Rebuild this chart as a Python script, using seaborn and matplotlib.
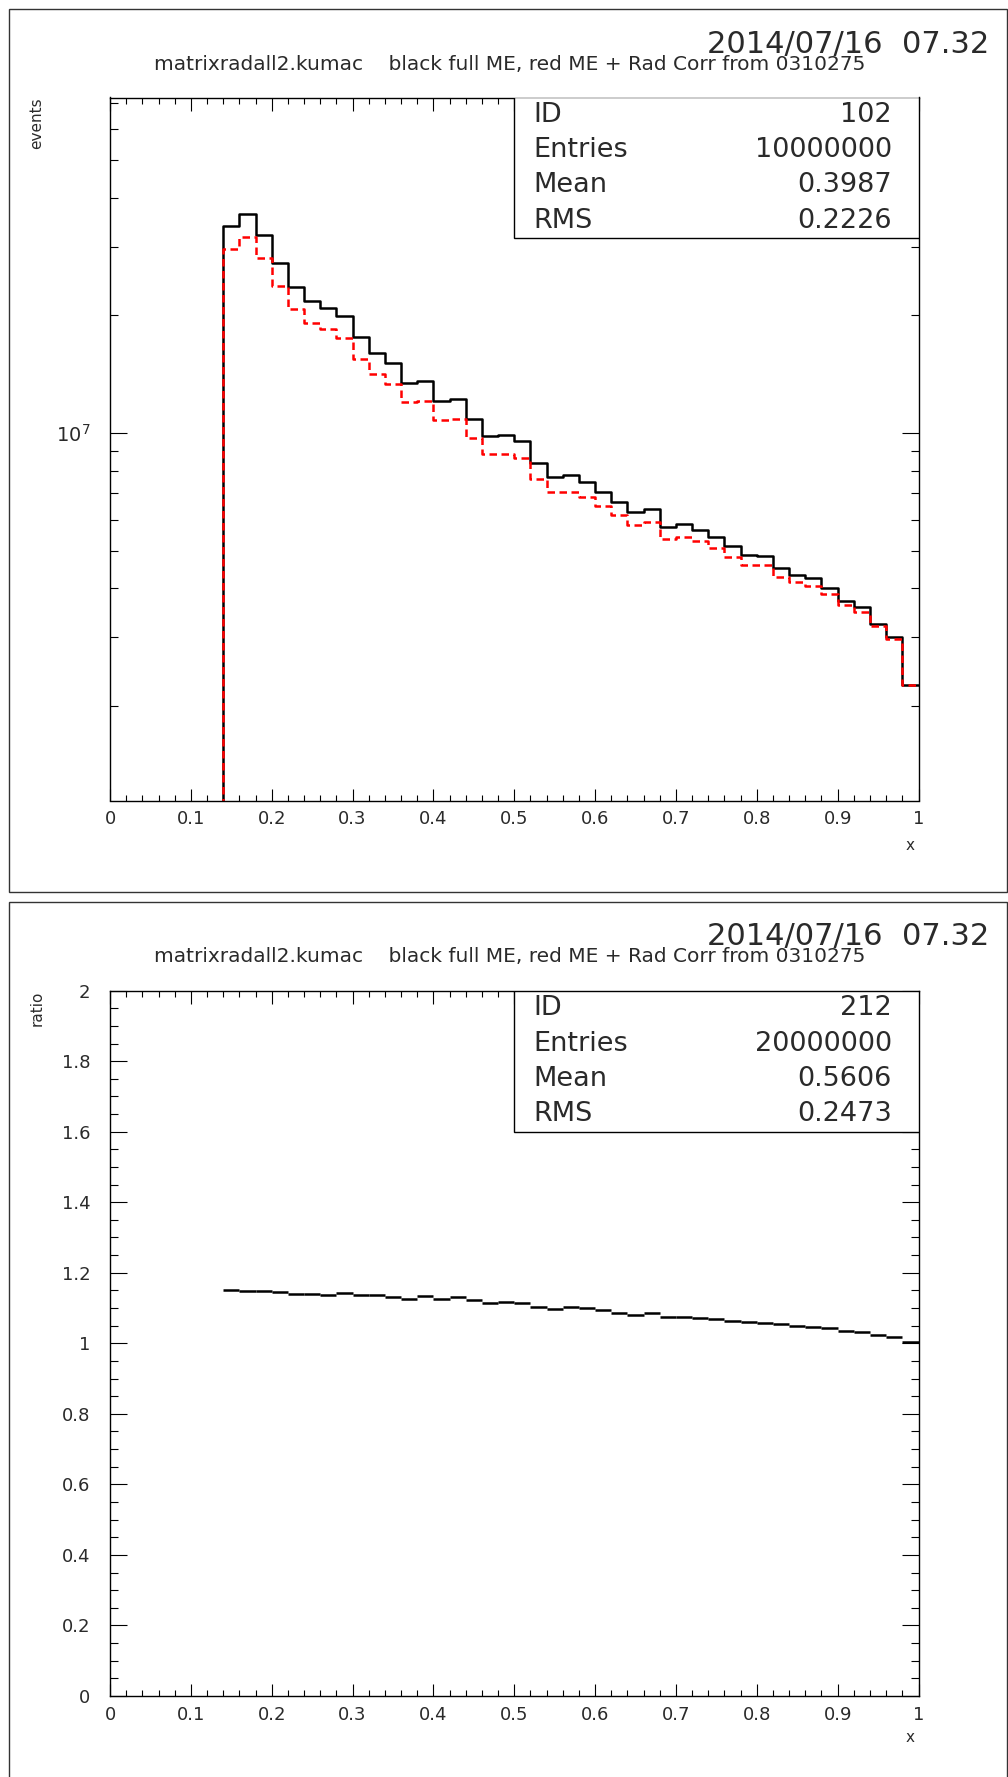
import numpy as np
import matplotlib
matplotlib.use("Agg")
import matplotlib.pyplot as plt
from matplotlib.patches import Rectangle
from matplotlib.ticker import (MultipleLocator, LogLocator,
                               NullFormatter, FuncFormatter)
import seaborn as sns

# canvas
W, H = 1008, 1777
dpi = 100

stamp = "2014/07/16  07.32"
subtitle = "matrixradall2.kumac    black full ME, red ME + Rad Corr from 0310275"

# 50 bins on [0, 1], first filled bin starts at 0.14
n_bins = 50
x_range = (0, 1)
first_bin = 0.14
bin_width = 0.02

# histogram 102, black: full ME (units of 1e6 events)
full_me = [33.95, 36.36, 32.13, 27.29, 23.69, 21.82, 20.89, 19.97, 17.64, 15.97,
           15.08, 13.45, 13.61, 12.10, 12.24, 10.86, 9.83, 9.88, 9.56, 8.38,
           7.73, 7.81, 7.51, 7.06, 6.67, 6.26, 6.37, 5.76, 5.84, 5.65,
           5.42, 5.13, 4.86, 4.83, 4.50, 4.33, 4.25, 4.02, 3.71, 3.59,
           3.25, 3.01, 2.27]

# red: ME + Rad Corr (units of 1e6 events)
me_radcorr = [29.52, 31.81, 28.05, 23.78, 20.81, 19.16, 18.42, 17.54, 15.50, 14.13,
              13.35, 11.98, 12.10, 10.80, 10.86, 9.69, 8.82, 8.85, 8.61, 7.61,
              7.06, 7.08, 6.87, 6.49, 6.17, 5.81, 5.90, 5.36, 5.43, 5.29,
              5.07, 4.82, 4.60, 4.59, 4.29, 4.15, 4.06, 3.86, 3.62, 3.49,
              3.21, 2.97, 2.26]

# histogram 212: ratio
ratio = [1.151, 1.147, 1.147, 1.145, 1.139, 1.139, 1.137, 1.142, 1.137, 1.137,
         1.131, 1.126, 1.134, 1.126, 1.131, 1.123, 1.115, 1.117, 1.115, 1.104,
         1.097, 1.103, 1.099, 1.093, 1.087, 1.081, 1.085, 1.074, 1.074, 1.072,
         1.069, 1.064, 1.060, 1.057, 1.055, 1.050, 1.046, 1.042, 1.036, 1.031,
         1.024, 1.018, 1.004]

stats_top = [("ID", "102"), ("Entries", "10000000"), ("Mean", "0.3987"), ("RMS", "0.2226")]
stats_bot = [("ID", "212"), ("Entries", "20000000"), ("Mean", "0.5606"), ("RMS", "0.2473")]

sns.set_theme(style="white")
plt.rcParams["font.family"] = ["DejaVu Sans"]
plt.rcParams["axes.edgecolor"] = "black"
plt.rcParams["text.color"] = "#2a2a2a"


def fx(px):
    return px / W


def fy(py):
    return 1 - py / H


def style_axes(ax):
    for s in ax.spines.values():
        s.set_color("black")
        s.set_linewidth(1.0)
    ax.set_xlim(*x_range)
    ax.xaxis.set_major_locator(MultipleLocator(0.1))
    ax.xaxis.set_minor_locator(MultipleLocator(0.02))
    ax.xaxis.set_major_formatter(FuncFormatter(lambda v, p: f"{v:g}"))
    ax.tick_params(which="both", direction="in", top=True, right=True,
                   bottom=True, left=True, color="black", width=0.8,
                   labelsize=13, labelcolor="#2a2a2a")
    ax.tick_params(which="major", length=9)
    ax.tick_params(which="minor", length=4)
    ax.tick_params(axis="x", pad=7)
    ax.tick_params(axis="y", pad=14)
    ax.set_xlabel("")
    ax.set_ylabel("")
    ax.grid(False)


def stats_box(ax, rows):
    ax.add_patch(Rectangle((0.5, 0.8), 0.5, 0.2, transform=ax.transAxes,
                           facecolor="white", edgecolor="black", lw=1.0, zorder=3))
    for i, (k, v) in enumerate(rows):
        yy = 0.975 - 0.05 * i
        ax.text(0.524, yy, k, transform=ax.transAxes, ha="left", va="center",
                fontsize=19.5, zorder=4)
        ax.text(0.967, yy, v, transform=ax.transAxes, ha="right", va="center",
                fontsize=19.5, zorder=4)


def page_header(top):
    fig.add_artist(Rectangle((fx(9), fy(top + 883)), fx(998), 883 / H,
                             transform=fig.transFigure, fill=False,
                             edgecolor="#333333", lw=1.0))
    fig.text(fx(989), fy(top + 35), stamp, ha="right", va="center", fontsize=22)
    fig.text(fx(510), fy(top + 55), subtitle, ha="center", va="center", fontsize=14.5)


fig = plt.figure(figsize=(W / dpi, H / dpi), dpi=dpi)
page_header(9)
page_header(901.5)

centers = first_bin + bin_width / 2 + bin_width * np.arange(len(full_me))

# top: events, log scale
ax1 = fig.add_axes([fx(110), fy(800.5), fx(918.5) - fx(110), (800.5 - 97.5) / H])
sns.histplot(x=centers, weights=np.array(full_me) * 1e6, bins=n_bins, binrange=x_range,
             element="step", fill=False, color="black", linewidth=1.8, ax=ax1)
sns.histplot(x=centers, weights=np.array(me_radcorr) * 1e6, bins=n_bins, binrange=x_range,
             element="step", fill=False, color="red", linewidth=1.8,
             linestyle=(0, (3, 1.8)), ax=ax1)
ax1.set_yscale("log")
ax1.set_ylim(1.146e6, 7.22e7)
style_axes(ax1)
ax1.yaxis.set_minor_locator(LogLocator(base=10, subs=np.arange(2, 10)))
ax1.yaxis.set_minor_formatter(NullFormatter())
ax1.tick_params(axis="y", which="major", length=12, labelsize=14)
ax1.tick_params(axis="y", which="minor", length=6)
stats_box(ax1, stats_top)
fig.text(fx(37), fy(97.5), "events", rotation=90, ha="center", va="top", fontsize=11)
fig.text(fx(910), fy(845), "x", ha="center", va="center", fontsize=11)

# bottom: ratio
ax2 = fig.add_axes([fx(110), fy(1696), fx(918.5) - fx(110), (1696 - 990.6) / H])
ax2.hlines(ratio, centers - bin_width / 2, centers + bin_width / 2,
           color="black", lw=1.8)
ax2.set_ylim(0, 2)
style_axes(ax2)
ax2.yaxis.set_major_locator(MultipleLocator(0.2))
ax2.yaxis.set_minor_locator(MultipleLocator(0.05))
ax2.yaxis.set_major_formatter(FuncFormatter(lambda v, p: f"{v:g}"))
ax2.tick_params(axis="y", which="major", length=12)
ax2.tick_params(axis="y", which="minor", length=6)
stats_box(ax2, stats_bot)
fig.text(fx(37), fy(990.6), "ratio", rotation=90, ha="center", va="top", fontsize=11)
fig.text(fx(910), fy(1737), "x", ha="center", va="center", fontsize=11)

fig.savefig("out.png", dpi=dpi)
